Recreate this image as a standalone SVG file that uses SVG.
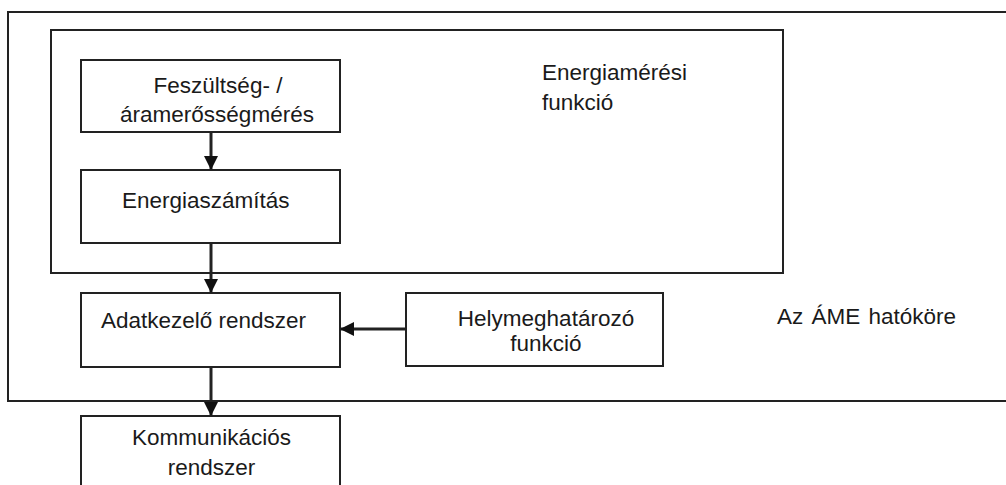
<svg xmlns="http://www.w3.org/2000/svg" width="1006" height="485" viewBox="0 0 1006 485">
<defs>
<style>
.box{fill:none;stroke:#222;stroke-width:2}
.t{font-family:"Liberation Sans",Arial,sans-serif;font-size:22.5px;fill:#1a1a1a}
.c{text-anchor:middle}
.ln{stroke:#222;stroke-width:3;fill:none}
</style>
<marker id="ah" viewBox="0 0 10 10" refX="10" refY="5" markerWidth="14" markerHeight="16" markerUnits="userSpaceOnUse" orient="auto">
<path d="M0,0 L10,5 L0,10 Z" fill="#111"/>
</marker>
</defs>
<rect width="1006" height="485" fill="#fff"/>
<g id="ame-scope">
<path class="box" d="M1010,12 H8 V401 H1010"/>
<text class="t" x="777" y="324" word-spacing="2">Az ÁME hatóköre</text>
</g>
<g id="energy-function">
<rect class="box" x="51" y="30" width="732" height="243"/>
<text class="t" x="542" y="80">Energiamérési</text>
<text class="t" x="542" y="110">funkció</text>
</g>
<g id="measurement">
<rect class="box" x="81" y="60" width="259" height="72"/>
<text class="t c" x="218" y="93">Feszültség- /</text>
<text class="t c" x="217" y="122">áramerősségmérés</text>
</g>
<g id="energy-calc">
<rect class="box" x="81" y="170" width="259" height="73"/>
<text class="t" x="122" y="208">Energiaszámítás</text>
</g>
<g id="data-handling">
<rect class="box" x="81" y="293" width="259" height="74"/>
<text class="t" x="101" y="328">Adatkezelő rendszer</text>
</g>
<g id="positioning">
<rect class="box" x="406" y="293" width="257" height="73"/>
<text class="t c" x="546" y="326">Helymeghatározó</text>
<text class="t c" x="546" y="351">funkció</text>
</g>
<g id="communication">
<rect class="box" x="81" y="416" width="259" height="80"/>
<text class="t c" x="211.5" y="445">Kommunikációs</text>
<text class="t c" x="211.5" y="475">rendszer</text>
</g>
<g id="connectors">
<line class="ln" x1="211" y1="133" x2="211" y2="170" marker-end="url(#ah)"/>
<line class="ln" x1="211" y1="243" x2="211" y2="293" marker-end="url(#ah)"/>
<line class="ln" x1="406" y1="329" x2="340" y2="329" marker-end="url(#ah)"/>
<line class="ln" x1="211" y1="367" x2="211" y2="416" marker-end="url(#ah)"/>
</g>
</svg>
